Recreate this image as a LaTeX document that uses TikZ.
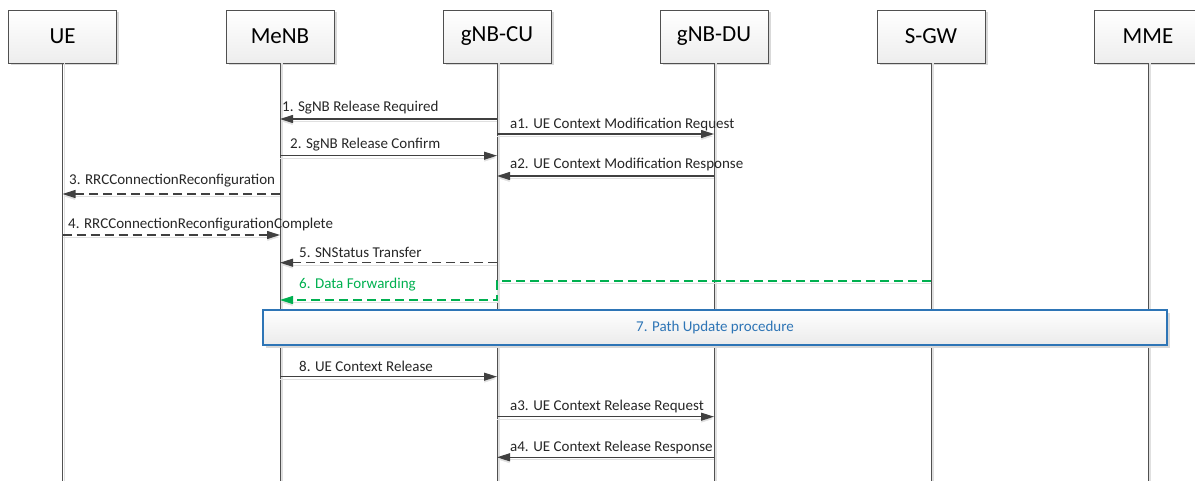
\documentclass[tikz,border=0pt]{standalone}
\usepackage{fontspec}
\setmainfont{Carlito}
\usetikzlibrary{arrows.meta,shadows}
\definecolor{arrowgray}{HTML}{404040}
\definecolor{linegray}{HTML}{505050}
\definecolor{fwdgreen}{HTML}{00B050}
\definecolor{procblue}{RGB}{46,117,182}
\tikzset{
	entity/.style={draw=linegray, top color=white, bottom color=black!7, minimum width=108pt, minimum height=53pt, font=\fontsize{23}{26}\selectfont, drop shadow={shadow xshift=2.5pt, shadow yshift=-2.5pt, fill=black!15, opacity=1}},
	lifeline/.style={draw=linegray, line width=0.9pt, preaction={draw=black!12, line width=1.6pt, transform canvas={xshift=1.8pt}}},
	msg/.style={draw=arrowgray, line width=1.1pt, -{Triangle[length=13pt,width=8pt]}, preaction={draw=black!12, transform canvas={yshift=-2.2pt}}},
	reply/.style={msg, dash pattern=on 9pt off 5pt},
	fwd/.style={reply, draw=fwdgreen},
	lbl/.style={anchor=west, inner sep=0pt, font=\fontsize{15}{18}\selectfont, text=black!85},
	procbox/.style={draw=procblue, line width=1.2pt, top color=white, bottom color=black!8, minimum width=904pt, minimum height=35pt, text=procblue, font=\fontsize{15}{18}\selectfont, drop shadow={shadow xshift=3pt, shadow yshift=-3pt, fill=black!15, opacity=1}}
}
\begin{document}
\begin{tikzpicture}[x=1pt,y=-1pt]
\useasboundingbox (0,0) rectangle (1195,481);
% entities
\node[entity] (ue) at (62.5,36.5) {UE};
\node[entity] (menb) at (280,36.5) {MeNB};
\node[entity] (cu) at (497,36.5) {gNB-CU};
\node[entity] (du) at (714,36.5) {gNB-DU};
\node[entity] (sgw) at (931,36.5) {S-GW};
\node[entity] (mme) at (1148,36.5) {MME};
\foreach \e in {ue,menb,cu,du,sgw,mme}
	\draw[lifeline] (\e.south) -- (\e.south |- 0,481);
% messages
\draw[msg] (cu |- 0,119) -- (menb |- 0,119);
\node[lbl] (m1) at (282,108) {1. SgNB Release Required};
\draw[msg] (cu |- 0,134) -- (du |- 0,134);
\node[lbl] (ma1) at (510,125) {a1. UE Context Modification Request};
\draw[msg] (menb |- 0,155.7) -- (cu |- 0,155.7);
\node[lbl] (m2) at (290,145) {2. SgNB Release Confirm};
\draw[msg] (du |- 0,176) -- (cu |- 0,176);
\node[lbl] (ma2) at (510,165) {a2. UE Context Modification Response};
\draw[reply] (menb |- 0,194) -- (ue |- 0,194);
\node[lbl] (m3) at (69,181) {3. RRCConnectionReconfiguration};
\draw[reply] (ue |- 0,235) -- (menb |- 0,235);
\node[lbl] (m4) at (68,225) {4. RRCConnectionReconfigurationComplete};
\draw[reply] (cu |- 0,262.7) -- (menb |- 0,262.7);
\node[lbl] (m5) at (299,252) {5. SNStatus Transfer};
\draw[fwd] (sgw |- 0,281) -- (cu |- 0,281) -- (cu |- 0,300) -- (menb |- 0,300);
\node[lbl, text=fwdgreen] (m6) at (299,285) {6. Data Forwarding};
\node[procbox] (path) at (715,327.5) {7. Path Update procedure};
\draw[msg] (menb |- 0,376.7) -- (cu |- 0,376.7);
\node[lbl] (m8) at (299,366.7) {8. UE Context Release};
\draw[msg] (cu |- 0,416.7) -- (du |- 0,416.7);
\node[lbl] (ma3) at (510,406.7) {a3. UE Context Release Request};
\draw[msg] (du |- 0,457.3) -- (cu |- 0,457.3);
\node[lbl] (ma4) at (510,447.3) {a4. UE Context Release Response};
\end{tikzpicture}
\end{document}
